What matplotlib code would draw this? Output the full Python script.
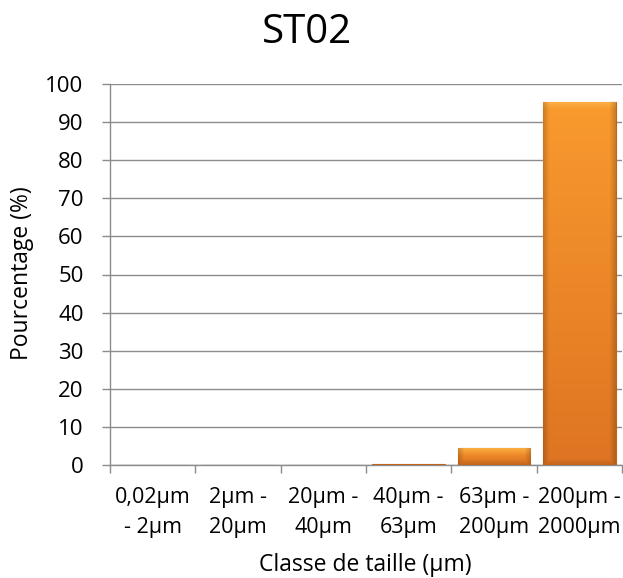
import matplotlib
matplotlib.use("Agg")
import matplotlib.pyplot as plt
import numpy as np

categories = ["0,02µm\n- 2µm", "2µm -\n20µm", "20µm -\n40µm", "40µm -\n63µm", "63µm -\n200µm", "200µm -\n2000µm"]
values = [0.0, 0.0, 0.0, 0.3, 4.5, 95.2]

plt.rcParams['font.family'] = ['Open Sans', 'DejaVu Sans']

W, H = 623, 578
fig = plt.figure(figsize=(W / 100, H / 100), dpi=100)
ax = fig.add_axes([110 / W, 113 / H, 512 / W, 381 / H])

x = np.arange(len(categories))
bars = ax.bar(x, values, width=0.85, color="#EC8426", edgecolor="#C0651C", linewidth=0.8, zorder=3)

ax.set_xlim(-0.5, len(categories) - 0.5)
ax.set_ylim(0, 100)

top_c = np.array([0xF9, 0x9A, 0x2E]) / 255
bot_c = np.array([0xDE, 0x74, 0x22]) / 255
bevel_c = np.array([0xFD, 0xB8, 0x4C]) / 255
px_per_unit_y = 381 / 100
px_per_unit_x = 512 / len(categories)
for b in bars:
    h = b.get_height()
    if h <= 0.5:
        continue
    x0, w = b.get_x(), b.get_width()
    ny = max(int(h * px_per_unit_y), 2)
    nx = max(int(w * px_per_unit_x), 2)
    t = np.linspace(0, 1, ny)[:, None, None]
    img = top_c * (1 - t) + bot_c * t
    img = np.broadcast_to(img, (ny, nx, 3)).copy()
    yy = np.arange(ny)[:, None]
    xx = np.arange(nx)[None, :]
    bev = np.clip(1 - yy / 7.0, 0, 1)
    img = img * (1 - 0.7 * bev[..., None]) + bevel_c * 0.7 * bev[..., None]
    d = np.minimum(xx, nx - 1 - xx)
    side = np.clip(1 - d / 6.0, 0, 1) * 0.18
    bottom = np.clip(1 - (ny - 1 - yy) / 6.0, 0, 1) * 0.12
    shade = 1 - np.maximum(side, bottom)
    img = img * shade[..., None]
    im = ax.imshow(np.clip(img, 0, 1), aspect='auto', extent=[x0, x0 + w, 0, h],
                   origin='upper', zorder=3.5, interpolation='bilinear')
    im.set_clip_path(b)

ax.set_yticks(np.arange(0, 101, 10))
ax.yaxis.grid(True, color="#8C8C8C", linewidth=1.0, zorder=0)
ax.set_axisbelow(True)

ax.set_xticks(x)
ax.set_xticklabels(categories, fontsize=15.5, linespacing=1.55)
ax.tick_params(axis='x', length=0, pad=16)
ax.set_xticks(np.arange(-0.5, len(categories), 1), minor=True)
ax.tick_params(axis='x', which='minor', length=5.5, color="#8C8C8C", width=1)
ax.tick_params(axis='y', labelsize=16, length=6, color="#8C8C8C", width=1, pad=13)

for s in ['top', 'right']:
    ax.spines[s].set_visible(False)
for s in ['left', 'bottom']:
    ax.spines[s].set_color("#8C8C8C")
    ax.spines[s].set_linewidth(1.0)

fig.text(307 / W, 1 - 33 / H, "ST02", fontsize=29, ha='center', va='center')
fig.text(22 / W, 1 - 273 / H, "Pourcentage (%)", fontsize=16.5, rotation=90, ha='center', va='center')
fig.text(365 / W, 1 - 565 / H, "Classe de taille (µm)", fontsize=16.5, ha='center', va='center')

fig.savefig("out.png", dpi=100)
